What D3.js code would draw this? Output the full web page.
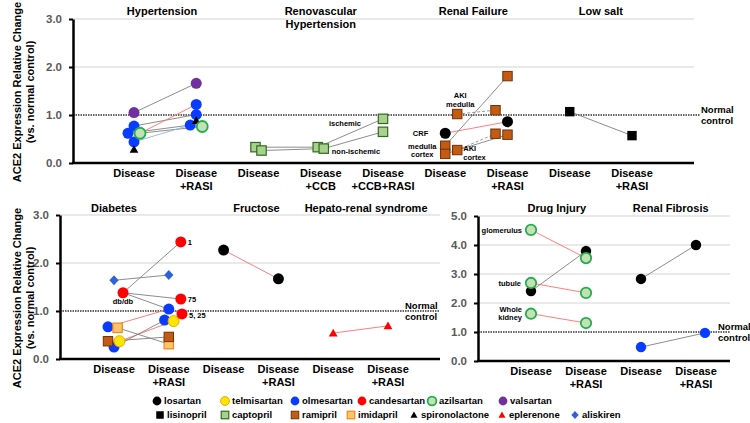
<!DOCTYPE html>
<html>
<head>
<meta charset="utf-8">
<script src="https://cdn.jsdelivr.net/npm/d3@7"></script>
<style>
  body { margin: 0; background: #fff; }
  svg { font-family: "Liberation Sans", Arial, sans-serif; font-weight: bold; }
</style>
</head>
<body>
<svg id="chart" width="750" height="423"></svg>
<script>
// ---- data ----
// point = [drug, category index, value, jitter slot]; link = [from point, to point, line kind]
const topCats = [["Disease"], ["Disease", "+RASI"], ["Disease"], ["Disease", "+CCB"], ["Disease", "+CCB+RASI"],
  ["Disease"], ["Disease", "+RASI"], ["Disease"], ["Disease", "+RASI"]];
const topTitles = [["Hypertension"], ["Renovascular", "Hypertension"], ["Renal Failure"], ["Low salt"]];
const topPoints = [
  ["valsartan", 0, 1.05, 0], ["olmesartan", 0, 0.77, 0], ["olmesartan", 0, 0.62, -1], ["olmesartan", 0, 0.44, 0],
  ["azilsartan", 0, 0.62, 1], ["spironolactone", 0, 0.28, 0],
  ["valsartan", 1, 1.66, 0], ["olmesartan", 1, 1.22, 0], ["olmesartan", 1, 1.01, 0], ["olmesartan", 1, 0.79, -1],
  ["spironolactone", 1, 0.88, 0], ["azilsartan", 1, 0.76, 1],
  ["captopril", 2, 0.33, -0.5], ["captopril", 2, 0.26, 0.5], ["captopril", 3, 0.33, -0.5], ["captopril", 3, 0.30, 0.5],
  ["captopril", 4, 0.92, 0], ["captopril", 4, 0.65, 0],
  ["losartan", 5, 0.62, 0], ["ramipril", 5, 0.36, 0], ["ramipril", 5, 0.19, 0], ["ramipril", 5, 1.02, 2], ["ramipril", 5, 0.27, 2],
  ["ramipril", 6, 1.81, 0], ["ramipril", 6, 1.10, -2], ["ramipril", 6, 0.61, -2], ["ramipril", 6, 0.59, 0], ["losartan", 6, 0.86, 0],
  ["lisinopril", 7, 1.07, 0], ["lisinopril", 8, 0.57, 0]
];
const topLinks = [[0, 6, "g"], [1, 8, "g"], [4, 7, "r"], [2, 9, "g"], [4, 11, "g"], [3, 9, "b"],
  [12, 14, "g"], [13, 15, "g"], [14, 16, "g"], [15, 17, "g"],
  [18, 27, "r"], [19, 23, "g"], [21, 24, "d"], [22, 25, "d"], [20, 26, "g"], [28, 29, "g"]];
const topNotes = [[["ischemic"], 16], [["non-ischemic"], 15], [["CRF"], 18], [["medulla", "cortex"], 19],
  [["AKI", "medulla"], 21], [["AKI", "cortex"], 22]];

const blCats = [["Disease"], ["Disease", "+RASI"], ["Disease"], ["Disease", "+RASI"], ["Disease"], ["Disease", "+RASI"]];
const blTitles = [["Diabetes"], ["Fructose"], ["Hepato-renal syndrome"]];
const blPoints = [
  ["aliskiren", 0, 1.64, 0], ["aliskiren", 1, 1.75, 0],
  ["olmesartan", 0, 0.67, -1], ["olmesartan", 0, 0.25, 0], ["olmesartan", 1, 1.04, 0], ["olmesartan", 1, 0.81, -0.7],
  ["imidapril", 0, 0.65, 0.6], ["imidapril", 1, 0.31, 0], ["ramipril", 0, 0.37, -1], ["ramipril", 1, 0.46, 0],
  ["telmisartan", 0, 0.37, 0.9], ["telmisartan", 1, 0.79, 0.8],
  ["candesartan", 0, 1.38, 1.5], ["candesartan", 1, 2.44, 2], ["candesartan", 1, 1.25, 2], ["candesartan", 1, 0.94, 2.2],
  ["losartan", 2, 2.27, 0], ["losartan", 3, 1.67, 0], ["eplerenone", 4, 0.54, 0], ["eplerenone", 5, 0.69, 0]
];
const blLinks = [[0, 1, "g"], [12, 13, "g"], [12, 14, "g"], [12, 15, "g"], [2, 4, "r"], [10, 11, "r"],
  [3, 5, "g"], [6, 7, "g"], [8, 9, "g"], [16, 17, "r"], [18, 19, "r"]];
const blNotes = [[["db/db"], 12], [["1"], 13], [["75"], 14], [["5, 25"], 15]];

const brCats = [["Disease"], ["Disease", "+RASI"], ["Disease"], ["Disease", "+RASI"]];
const brTitles = [["Drug Injury"], ["Renal Fibrosis"]];
const brPoints = [
  ["losartan", 0, 2.41, 0], ["losartan", 1, 3.79, 0],
  ["azilsartan", 0, 4.52, 0], ["azilsartan", 0, 2.69, 0], ["azilsartan", 0, 1.63, 0],
  ["azilsartan", 1, 3.55, 0], ["azilsartan", 1, 2.35, 0], ["azilsartan", 1, 1.31, 0],
  ["losartan", 2, 2.83, 0], ["losartan", 3, 4.0, 0], ["olmesartan", 2, 0.48, 0], ["olmesartan", 3, 0.97, 1.5]
];
const brLinks = [[2, 5, "r"], [3, 6, "r"], [4, 7, "r"], [0, 1, "g"], [8, 9, "g"], [10, 11, "g"]];
const brNotes = [[["glomerulus"], 2], [["tubule"], 3], [["Whole", "kidney"], 4]];

const legendRow1 = ["losartan", "telmisartan", "olmesartan", "candesartan", "azilsartan", "valsartan"];
const legendRow2 = ["lisinopril", "captopril", "ramipril", "imidapril", "spironolactone", "eplerenone", "aliskiren"];

// ---- styles / layout ----
const drugStyle = {
  losartan: { shape: "circle", fill: "#000" },
  telmisartan: { shape: "circle", fill: "#ffe600", stroke: "#f0a800", sw: 1 },
  olmesartan: { shape: "circle", fill: "#0a3cff" },
  candesartan: { shape: "circle", fill: "#ff0000" },
  azilsartan: { shape: "circle", fill: "#c5e0b4", stroke: "#1fb04c", sw: 1.8 },
  valsartan: { shape: "circle", fill: "#7030a0" },
  lisinopril: { shape: "square", fill: "#000" },
  captopril: { shape: "square", fill: "#a9d18e", stroke: "#2f6b1f", sw: 1.2 },
  ramipril: { shape: "square", fill: "#c55a11", stroke: "#6e320a", sw: 1 },
  imidapril: { shape: "square", fill: "#ffc46b", stroke: "#f2861e", sw: 1.2 },
  spironolactone: { shape: "triangle", fill: "#000" },
  eplerenone: { shape: "triangle", fill: "#ff0000" },
  aliskiren: { shape: "diamond", fill: "#2f62d6" }
};
const linkStyle = {
  g: { color: "#7f7f7f", dash: null },
  r: { color: "#ff6f6f", dash: null },
  b: { color: "#8eb4e3", dash: null },
  d: { color: "#8c8c8c", dash: "3,2" }
};

const svg = d3.select("#chart");

function marker(g, drug, x, y, k) {
  const s = drugStyle[drug];
  let el;
  if (s.shape === "circle") {
    el = g.append("circle").attr("cx", x).attr("cy", y).attr("r", 5.5 * k);
  } else if (s.shape === "square") {
    const h = 4.7 * k;
    el = g.append("rect").attr("x", x - h).attr("y", y - h).attr("width", 2 * h).attr("height", 2 * h);
  } else if (s.shape === "triangle") {
    const h = 4.4 * k;
    el = g.append("path").attr("d", `M${x},${y - h}L${x + h},${y + h * 0.75}L${x - h},${y + h * 0.75}Z`);
  } else {
    el = g.append("path").attr("d", `M${x},${y - 5 * k}L${x + 4.6 * k},${y}L${x},${y + 5 * k}L${x - 4.6 * k},${y}Z`);
  }
  el.attr("fill", s.fill).attr("stroke", s.stroke || "none").attr("stroke-width", s.sw || 0);
}

function multiText(g, lines, x, y, size, anchor, lh) {
  const t = g.append("text").attr("x", x).attr("y", y).attr("font-size", size)
    .attr("text-anchor", anchor).attr("fill", "#000");
  lines.forEach((l, i) => t.append("tspan").attr("x", x).attr("dy", i ? lh : 0).text(l));
}

function drawPanel(p) {
  const x = d3.scalePoint().domain(d3.range(p.cats.length)).range(p.catRange);
  const y = d3.scaleLinear().domain([0, p.max]).range([p.yBase, p.yTop]);
  const px = d => x(d[1]) + d[3] * 6;
  const py = d => y(d[2]);
  const g = svg.append("g");

  // grid lines
  g.selectAll(".grid").data(d3.range(2, p.max + 1)).join("line")
    .attr("x1", p.axisX).attr("x2", p.endX).attr("y1", d => y(d)).attr("y2", d => y(d))
    .attr("stroke", "#e2e2e2").attr("stroke-width", 1.3);

  // normal control line
  g.append("line").attr("x1", p.axisX).attr("x2", p.dotEnd).attr("y1", y(1)).attr("y2", y(1))
    .attr("stroke", "#333").attr("stroke-width", 1.4).attr("stroke-dasharray", "1.5,1");
  multiText(g, ["Normal", "control"], p.normalX, y(1) - 2, 9.5, "start", 11);

  // axes
  const ax = g.append("g").attr("transform", `translate(${p.axisX},0)`)
    .call(d3.axisLeft(y).tickValues(d3.range(0, p.max + 1)).tickFormat(d3.format(".1f"))
      .tickSize(4).tickSizeOuter(0).tickPadding(7));
  ax.attr("font-family", null).attr("font-size", 11.5);
  ax.select(".domain").attr("stroke-width", 2.5);
  ax.selectAll(".tick line").attr("stroke-width", 2);
  ax.selectAll(".tick text").attr("fill", "#595959");
  g.append("line").attr("x1", p.axisX - 1).attr("x2", p.endX).attr("y1", y(0)).attr("y2", y(0))
    .attr("stroke", "#000").attr("stroke-width", 2.5);

  // category labels
  p.cats.forEach((c, i) => multiText(g, c, x(i), p.yBase + 14, 11, "middle", 13));

  // panel titles
  p.titles.forEach((t, i) => {
    const at = p.titleAt[i];
    const tx = x(Math.floor(at)) + (at - Math.floor(at)) * x.step();
    multiText(g, t, tx, p.titleY, 11, "middle", 13);
  });

  // links
  p.links.forEach(l => {
    const a = p.points[l[0]], b = p.points[l[1]], s = linkStyle[l[2]];
    g.append("line").attr("x1", px(a)).attr("y1", py(a)).attr("x2", px(b)).attr("y2", py(b))
      .attr("stroke", s.color).attr("stroke-width", 0.9).attr("stroke-dasharray", s.dash);
  });

  // points
  p.points.forEach(d => marker(g, d[0], px(d), py(d), p.k));

  // notes
  p.notes.forEach((n, i) => {
    const d = p.points[n[1]], o = p.noteOffsets[i];
    multiText(g, n[0], px(d) + o[0], py(d) + o[1], 7.5, o[2], 8.5);
  });
}

drawPanel({
  cats: topCats, titles: topTitles, titleAt: [0.45, 3, 5.45, 7.5], titleY: 15,
  points: topPoints, links: topLinks, notes: topNotes,
  noteOffsets: [[-38, 7, "middle"], [8, 5.5, "start"], [-17, 3, "end"], [-23, 3, "middle"], [3, -16, "middle"], [6, 1, "start"]],
  max: 3, yBase: 163, yTop: 19, axisX: 73, endX: 694, dotEnd: 700, normalX: 701,
  catRange: [134, 632], k: 1
});
drawPanel({
  cats: blCats, titles: blTitles, titleAt: [0, 2.6, 4.6], titleY: 212,
  points: blPoints, links: blLinks, notes: blNotes,
  noteOffsets: [[0, 11, "middle"], [7, 3, "start"], [7, 3, "start"], [7, 4, "start"]],
  max: 3, yBase: 359, yTop: 215, axisX: 60, endX: 440, dotEnd: 440, normalX: 405,
  catRange: [114, 388], k: 1
});
drawPanel({
  cats: brCats, titles: brTitles, titleAt: [0.47, 2.54], titleY: 212,
  points: brPoints, links: brLinks, notes: brNotes,
  noteOffsets: [[-9, 3, "end"], [-10, 3, "end"], [-9, -2, "end"]],
  max: 5, yBase: 361, yTop: 216, axisX: 478, endX: 730, dotEnd: 730, normalX: 718,
  catRange: [531, 696], k: 0.95
});

// y axis titles
[92, 298].forEach(cy => {
  const t = svg.append("text").attr("transform", `translate(21,${cy}) rotate(-90)`)
    .attr("text-anchor", "middle").attr("font-size", 11);
  t.append("tspan").attr("x", 0).attr("y", 0).text("ACE2 Expression Relative Change");
  t.append("tspan").attr("x", 0).attr("y", 13).text("(vs. normal control)");
});

// legend
const legendX1 = [157, 225, 295, 362, 432, 503];
const legendX2 = [160, 225, 295, 351, 414, 502, 575];
[[legendRow1, legendX1, 404], [legendRow2, legendX2, 418]].forEach(([row, xs, ly]) => {
  row.forEach((drug, i) => {
    const lg = svg.append("g");
    marker(lg, drug, xs[i], ly - 3, 0.8);
    lg.append("text").attr("x", xs[i] + 7).attr("y", ly).attr("font-size", 9.5).text(drug);
  });
});
</script>
</body>
</html>
